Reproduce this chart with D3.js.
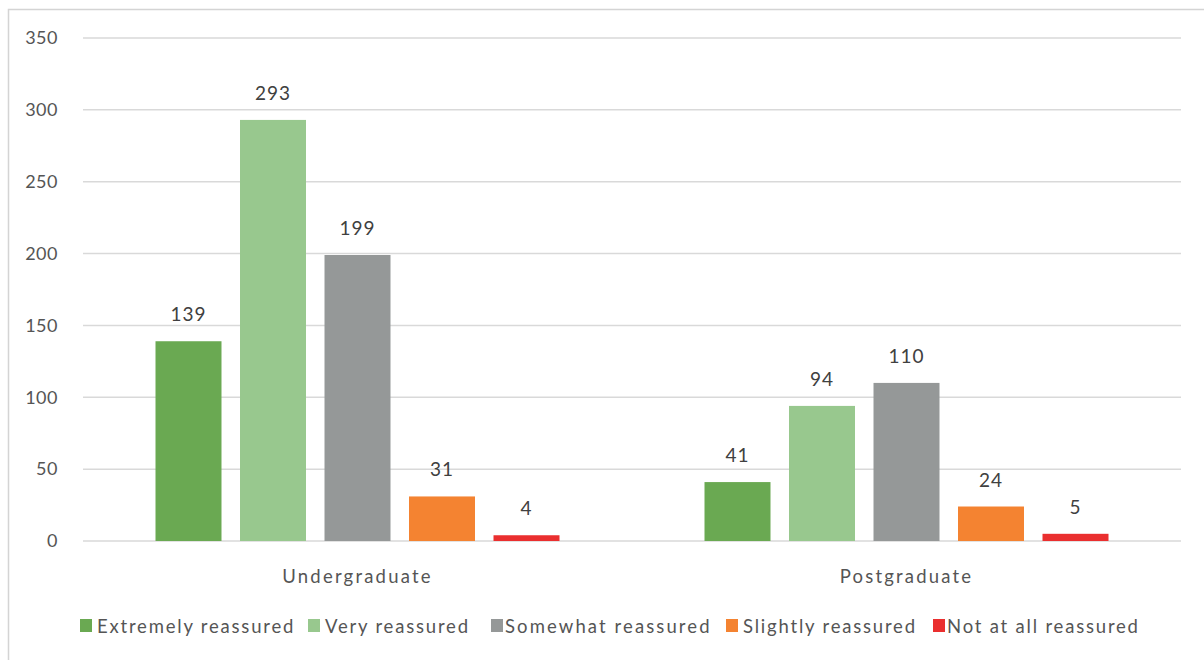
<!DOCTYPE html>
<html>
<head>
<meta charset="utf-8">
<script src="https://cdn.jsdelivr.net/npm/d3@7/dist/d3.min.js"></script>
<style>
  html, body { margin: 0; padding: 0; background: #fff; }
  svg { display: block; font-family: Lato, "Open Sans", sans-serif; }
</style>
</head>
<body>
<svg id="chart" width="1204" height="660"></svg>
<script>
// Education level groups along the x axis
const categories = ["Undergraduate", "Postgraduate"];

// Response options (series), in legend order
const seriesNames = [
  "Extremely reassured",
  "Very reassured",
  "Somewhat reassured",
  "Slightly reassured",
  "Not at all reassured"
];

// Counts per series: [Undergraduate, Postgraduate]
const extremelyReassured = [139, 41];
const veryReassured      = [293, 94];
const somewhatReassured  = [199, 110];
const slightlyReassured  = [31, 24];
const notAtAllReassured  = [4, 5];

// Value axis ticks
const yTicks = [0, 50, 100, 150, 200, 250, 300, 350];

const seriesValues = [
  extremelyReassured,
  veryReassured,
  somewhatReassured,
  slightlyReassured,
  notAtAllReassured
];
const seriesColors = ["#6aa952", "#98c88e", "#959898", "#f48331", "#ea2f2f"];

const svg = d3.select("#chart");

// Chart-area frame
svg.append("rect")
  .attr("x", 8.5).attr("y", 9.5)
  .attr("width", 1204).attr("height", 660)
  .attr("fill", "none")
  .attr("stroke", "#d4d4d4")
  .attr("stroke-width", 1.5);

const plot = { left: 83, right: 1181, top: 38, bottom: 541 };

const y = d3.scaleLinear().domain([0, 350]).range([plot.bottom, plot.top]);

const x0 = d3.scaleBand()
  .domain(categories)
  .range([plot.left, plot.right])
  .paddingInner(0).paddingOuter(0);

const x1 = d3.scaleBand()
  .domain(seriesNames)
  .range([0, x0.bandwidth()])
  .paddingInner(0.219)
  .paddingOuter(0.858);

// Gridlines
svg.append("g")
  .selectAll("line")
  .data(yTicks)
  .join("line")
  .attr("x1", plot.left).attr("x2", plot.right)
  .attr("y1", d => y(d)).attr("y2", d => y(d))
  .attr("stroke", "#d9d9d9")
  .attr("stroke-width", 1.5);

// Y axis labels (no domain line / ticks)
const yAxis = d3.axisLeft(y).tickValues(yTicks).tickSize(0).tickPadding(0);
const yG = svg.append("g")
  .attr("transform", `translate(58,0)`)
  .call(yAxis);
yG.select(".domain").remove();
yG.selectAll("text")
  .attr("fill", "#555")
  .style("font-size", "18px")
  .style("letter-spacing", "0.5px")
  .style("font-family", "Lato, sans-serif");

// Bars
const groups = svg.append("g")
  .selectAll("g")
  .data(seriesNames.map((name, i) => ({ name, i })))
  .join("g")
  .attr("fill", d => seriesColors[d.i]);

groups.selectAll("rect")
  .data(d => categories.map((c, j) => ({ cat: c, series: d.name, value: seriesValues[d.i][j] })))
  .join("rect")
  .attr("x", d => x0(d.cat) + x1(d.series))
  .attr("width", x1.bandwidth())
  .attr("y", d => y(d.value))
  .attr("height", d => y(0) - y(d.value));

// Value labels above bars
groups.selectAll("text")
  .data(d => categories.map((c, j) => ({ cat: c, series: d.name, value: seriesValues[d.i][j] })))
  .join("text")
  .attr("x", d => x0(d.cat) + x1(d.series) + x1.bandwidth() / 2)
  .attr("y", d => y(d.value) - 20)
  .attr("text-anchor", "middle")
  .attr("fill", "#404040")
  .style("font-size", "19px")
  .style("letter-spacing", "1px")
  .text(d => d.value);

// Category axis labels
const xAxis = d3.axisBottom(x0).tickSize(0).tickPadding(0);
const xG = svg.append("g")
  .attr("transform", `translate(0,${plot.bottom + 42})`)
  .call(xAxis);
xG.select(".domain").remove();
xG.selectAll("text")
  .attr("fill", "#555")
  .attr("dy", 0)
  .style("font-size", "18.5px")
  .style("letter-spacing", "2.2px")
  .style("font-family", "Lato, sans-serif");

// Legend
const legendItemX = [80, 308, 491, 726, 933];
const legend = svg.append("g").attr("transform", "translate(0,619)");
const items = legend.selectAll("g")
  .data(seriesNames.map((name, i) => ({ name, i })))
  .join("g")
  .attr("transform", d => `translate(${legendItemX[d.i]},0)`);
items.append("rect")
  .attr("width", 12).attr("height", 13)
  .attr("fill", d => seriesColors[d.i]);
items.append("text")
  .attr("x", d => d.i === 2 || d.i === 4 ? 14 : 17)
  .attr("y", 14)
  .attr("fill", "#555")
  .style("font-size", "18.5px")
  .style("letter-spacing", d => d.i === 2 ? "2.1px" : "1.8px")
  .text(d => d.name);
</script>
</body>
</html>
